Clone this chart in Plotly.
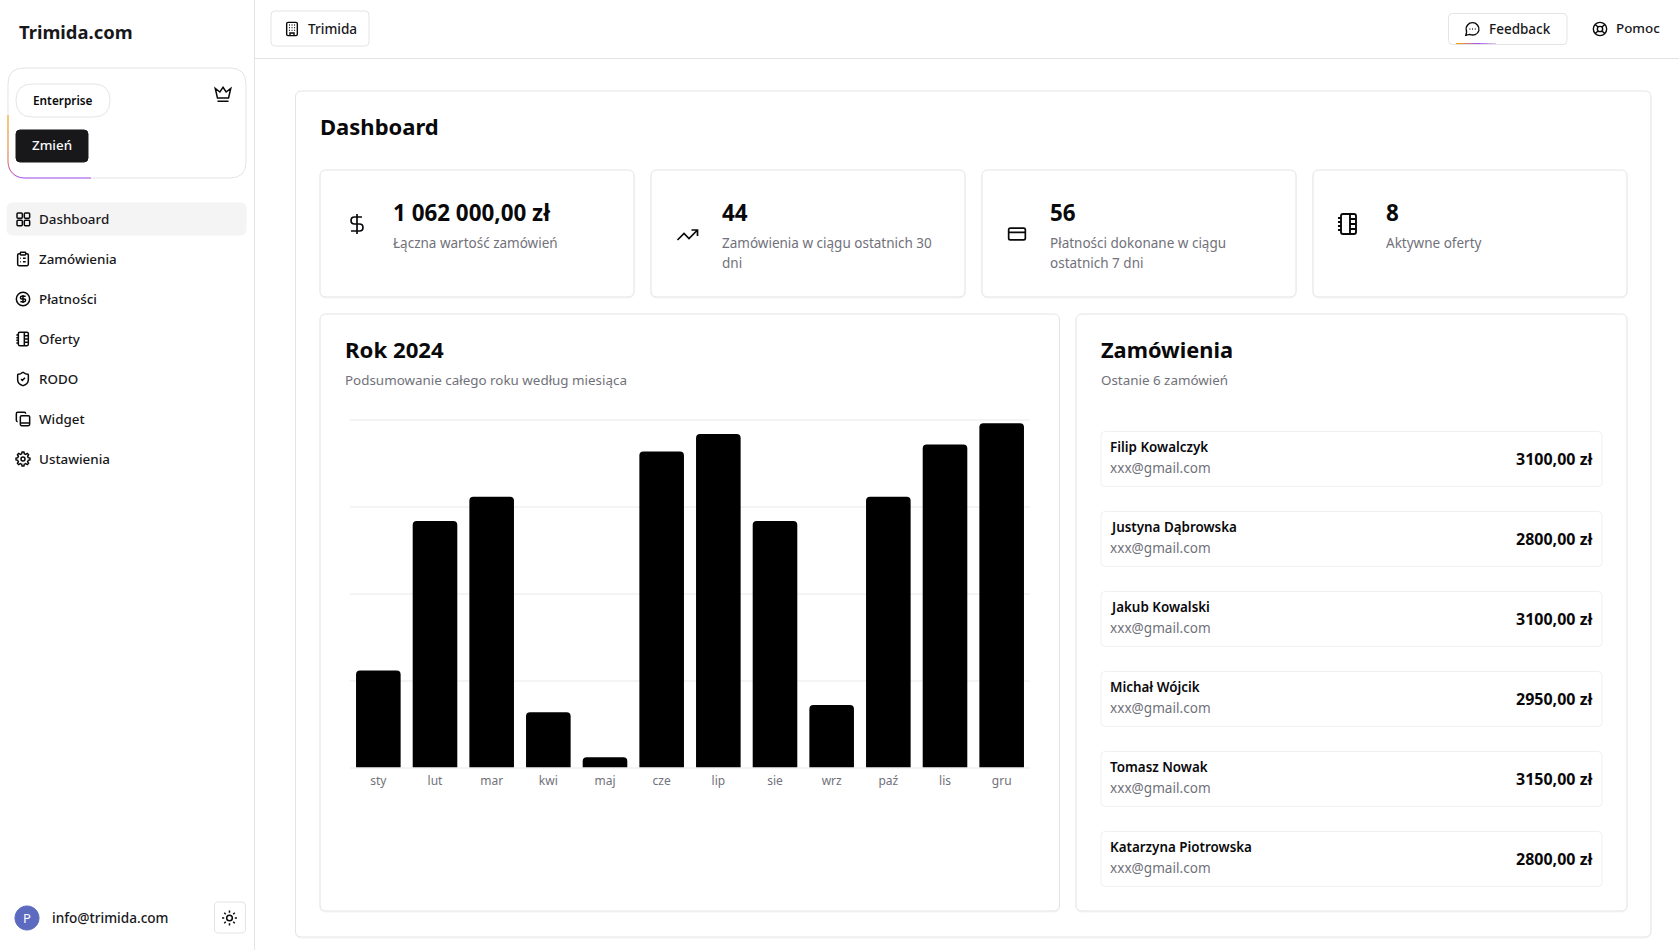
import math
import re
import plotly.graph_objects as go

W, H = 1679, 950
FONT = "Noto Sans"
INK = "#09090b"
MUTED = "#71717a"
LINE = "#e4e4e7"

# Dane wykresu
months = ["sty", "lut", "mar", "kwi", "maj", "cze", "lip", "sie", "wrz", "paź", "lis", "gru"]
totals = [40200, 102000, 112100, 22900, 4300, 130800, 138000, 102000, 25900, 112100, 133700, 142500]
grid_ticks = [0, 36000, 72000, 108000, 144000]

# Dane panelu
stat_values = ["1 062 000,00 zł", "44", "56", "8"]
stat_labels = ["Łączna wartość zamówień", "Zamówienia w ciągu ostatnich 30<br>dni",
               "Płatności dokonane w ciągu<br>ostatnich 7 dni", "Aktywne oferty"]
menu_items = ["Dashboard", "Zamówienia", "Płatności", "Oferty", "RODO", "Widget", "Ustawienia"]
order_names = ["Filip Kowalczyk", "Justyna Dąbrowska", "Jakub Kowalski",
               "Michał Wójcik", "Tomasz Nowak", "Katarzyna Piotrowska"]
order_amounts = ["3100,00 zł", "2800,00 zł", "3100,00 zł", "2950,00 zł", "3150,00 zł", "2800,00 zł"]

shapes, notes = [], []


def to_paper(path, ox=0, oy=0, s=1):
    # zamienia piksele na współrzędne paper
    nums = iter(range(10 ** 6))

    def conv(m):
        v = float(m.group())
        if next(nums) % 2 == 0:
            return f"{(ox + v * s) / W:.5f}"
        return f"{1 - (oy + v * s) / H:.5f}"
    return re.sub(r"-?\d+\.?\d*", conv, path)


def rrect(x, y, w, h, r):
    return (f"M{x + r} {y} L{x + w - r} {y} Q{x + w} {y} {x + w} {y + r} L{x + w} {y + h - r} "
            f"Q{x + w} {y + h} {x + w - r} {y + h} L{x + r} {y + h} Q{x} {y + h} {x} {y + h - r} "
            f"L{x} {y + r} Q{x} {y} {x + r} {y} Z ")


def circ(cx, cy, r):
    k = r * 0.5523
    return (f"M{cx + r} {cy} C{cx + r} {cy + k} {cx + k} {cy + r} {cx} {cy + r} "
            f"C{cx - k} {cy + r} {cx - r} {cy + k} {cx - r} {cy} "
            f"C{cx - r} {cy - k} {cx - k} {cy - r} {cx} {cy - r} "
            f"C{cx + k} {cy - r} {cx + r} {cy - k} {cx + r} {cy} Z ")


def box(x, y, w, h, r, fill="#ffffff", line=LINE, width=1, shadow=False):
    if shadow:
        stroke(rrect(x, y + 1, w, h, r), "#f4f4f5", 1)
    shapes.append(dict(type="path", path=to_paper(rrect(x, y, w, h, r)), xref="paper", yref="paper",
                       fillcolor=fill, line=dict(color=line, width=width), layer="below"))


def stroke(path, color, width=1):
    shapes.append(dict(type="path", path=to_paper(path), xref="paper", yref="paper",
                       fillcolor="rgba(0,0,0,0)", line=dict(color=color, width=width), layer="below"))


def icon(name, cx, cy, size=16, width=1.4, color=INK):
    path = ICONS[name]
    s = size / 24
    shapes.append(dict(type="path", path=to_paper(path, cx - size / 2, cy - size / 2, s),
                       xref="paper", yref="paper", fillcolor="rgba(0,0,0,0)",
                       line=dict(color=color, width=width), layer="below"))


def txt(x, y, s, size=13.4, color=INK, weight=400, anchor="left"):
    # el texto de Noto queda 1 px más bajo que en la referencia
    notes.append(dict(x=x / W, y=1 - (y - 1) / H, xref="paper", yref="paper", text=s, showarrow=False,
                      xanchor=anchor, yanchor="middle", align=anchor, borderpad=0, borderwidth=0,
                      font=dict(family=FONT, size=size, color=color, weight=weight)))


def blend(a, b, t):
    return "#" + "".join(f"{round(a[i] + (b[i] - a[i]) * t):02x}" for i in range(3))


def gradient(points, stops, width=1):
    # linia z gradientem rysowana krótkimi odcinkami
    n = len(points) - 1
    for i in range(n):
        t = i / n * (len(stops) - 1)
        j = min(int(t), len(stops) - 2)
        c = blend(stops[j], stops[j + 1], t - j)
        (x0, y0), (x1, y1) = points[i], points[i + 1]
        stroke(f"M{x0} {y0} L{x1} {y1}", c, width)


def gear():
    pts = []
    for i in range(48):
        a = i / 48 * 2 * math.pi
        r = 10.5 if (i + 1) % 6 < 3 else 8
        pts.append(f"{12 + r * math.cos(a):.2f} {12 + r * math.sin(a):.2f}")
    return "M" + " L".join(pts) + " Z " + circ(12, 12, 3)


def sun():
    out = circ(12, 12, 4)
    for i in range(8):
        a = i / 8 * 2 * math.pi
        out += (f"M{12 + 7.5 * math.cos(a):.2f} {12 + 7.5 * math.sin(a):.2f} "
                f"L{12 + 10.5 * math.cos(a):.2f} {12 + 10.5 * math.sin(a):.2f} ")
    return out


ICONS = {
    "building": rrect(4, 2, 16, 20, 2) + "M9 22 L9 18 L15 18 L15 22 M7.5 6 L8.8 6 M11.4 6 L12.7 6 M15.3 6 L16.6 6 "
                "M7.5 10 L8.8 10 M11.4 10 L12.7 10 M15.3 10 L16.6 10 M7.5 14 L8.8 14 M11.4 14 L12.7 14 M15.3 14 L16.6 14",
    "crown": "M12 3.5 L16 9.5 L21.8 5 L19 17 L5 17 L2.2 5 L8 9.5 Z M5 21 L19 21",
    "grid": rrect(3, 3, 8, 8, 1.5) + rrect(14, 3, 8, 8, 1.5) + rrect(14, 14, 8, 8, 1.5) + rrect(3, 14, 8, 8, 1.5),
    "clipboard": rrect(8, 2, 8, 4, 1) + "M16 4 L18 4 Q20 4 20 6 L20 20 Q20 22 18 22 L6 22 Q4 22 4 20 L4 6 Q4 4 6 4 L8 4 "
                 "M12 11 L16 11 M12 16 L16 16 M8 11 L9 11 M8 16 L9 16",
    "coin": circ(12, 12, 10) + "M16 8 L10 8 C7.5 8 7.5 12 10 12 L14 12 C16.5 12 16.5 16 14 16 L8 16 M12 6 L12 18",
    "dollar": "M12 2 L12 22 M17 5 L9.5 5 C4.9 5 4.9 12 9.5 12 L14.5 12 C19.1 12 19.1 19 14.5 19 L6 19",
    "notebook": "M2 6 L5 6 M2 10 L5 10 M2 14 L5 14 M2 18 L5 18 M14 2 L14 22 "
                "M14 7 L20 7 M14 12 L20 12 M14 17 L20 17 " + rrect(5, 2, 15, 20, 2),
    "shield": "M20 13 C20 18 16.5 20.5 12.3 22 Q12 22.1 11.7 22 C7.5 20.5 4 18 4 13 L4 6 Q4 5 5 5 C7 5 9.5 3.8 11.2 2.3 "
              "Q12 1.7 12.8 2.3 C14.5 3.8 17 5 19 5 Q20 5 20 6 Z M9 12 L11 14 L15 10",
    "copy": rrect(8, 7, 14, 15, 2) + "M8 18 L22 18 M4 16 C2.9 16 2 15.1 2 14 L2 4 C2 2.9 2.9 2 4 2 L14 2 C15.1 2 16 2.9 16 4",
    "gear": gear(),
    "trend": "M22 7 L13.5 15.5 L8.5 10.5 L2 17 M16 7 L22 7 L22 13",
    "card": rrect(2, 5, 20, 14, 2) + "M2 10 L22 10",
    "chat": "M7.9 20 C13 22.5 20 20.5 21.5 14.5 C23 7.5 17.5 2.5 12 2.5 C6 2.5 1.5 8 2.6 13 C3 15 3.3 16 3 17.5 "
            "L2 21.5 L6 20.5 Q7 20.2 7.9 20 Z M7.5 12 L8.7 12 M11.5 12 L12.7 12 M15.5 12 L16.7 12",
    "buoy": circ(12, 12, 10) + circ(12, 12, 4) + "M4.9 4.9 L9.2 9.2 M14.8 9.2 L19.1 4.9 M14.8 14.8 L19.1 19.1 M9.2 14.8 L4.9 19.1",
    "sun": sun(),
}

# Ramy układu
stroke("M254.5 0 L254.5 950", LINE)
stroke("M254.5 58.5 L1679 58.5", LINE)

# Pasek boczny
txt(19, 33, "Trimida.com", 18.4, "#18181b", 700)
box(8, 68, 238, 110, 16)
gradient([(8, 115), (8, 130), (8, 150), (8, 162)] +
         [(24 - 16 * math.cos(a / 6 * math.pi / 2), 162 + 16 * math.sin(a / 6 * math.pi / 2)) for a in range(1, 7)] +
         [(50, 178), (70, 178), (91, 178)],
         [(245, 158, 11), (217, 90, 160), (168, 85, 247), (168, 85, 247)], 1)
box(16, 84, 94, 33, 16.5)
txt(63, 101, "Enterprise", 11.8, INK, 600, "center")
box(16, 130, 72, 32, 4, fill="#18181b", line="#18181b")
txt(52, 146, "Zmień", 13.4, "#fafafa", 500, "center")
icon("crown", 223, 94, 19, 1.5)

box(7, 203, 239, 32, 6, fill="#f4f4f5", line="#f4f4f5")
menu_icons = ["grid", "clipboard", "coin", "notebook", "shield", "copy", "gear"]
for i, item in enumerate(menu_items):
    y = 219.6 + 40 * i
    icon(menu_icons[i], 23, y - 0.6, 16, 1.5)
    txt(39, y, item, 13.4, "#18181b", 500)

stroke(circ(27, 918, 12), "#5c6bc0", 1)
shapes[-1]["fillcolor"] = "#5c6bc0"
txt(27, 919, "P", 13, "#ffffff", 400, "center")
txt(52, 918, "info@trimida.com", 13.6, "#18181b", 500)
box(214.5, 902, 31, 31, 4)
icon("sun", 229.5, 918, 17, 1.5)

# Nagłówek
box(271, 11, 98, 35, 4)
icon("building", 292, 29, 16, 1.4)
txt(308, 29, "Trimida", 13.6, "#18181b", 500)
box(1448.5, 13.5, 118.5, 31, 4)
gradient([(1456 + i * 4, 43.5) for i in range(11)],
         [(245, 158, 11), (168, 85, 247), (228, 228, 231)], 1)
icon("chat", 1472.5, 29, 16, 1.4)
txt(1488.5, 30, "Feedback", 13.5, "#18181b", 500)
icon("buoy", 1600, 29, 16, 1.4)
txt(1616, 29, "Pomoc", 13.4, "#18181b", 500)

# Główna karta
box(295.5, 91, 1355.5, 846, 6, shadow=True)
txt(320, 127, "Dashboard", 22, INK, 700)

stat_x = [320, 651, 982, 1313]
stat_text_x = [393, 722, 1050, 1385.5]
stat_icons = [("dollar", 357, 224, 24, 1.7), ("trend", 687.5, 235, 24, 1.7),
              ("card", 1017, 234, 20, 1.7), ("notebook", 1348, 224, 24, 1.9)]
for i in range(4):
    box(stat_x[i], 170, 314, 127, 6, shadow=True)
    name, ix, iy, size, lw = stat_icons[i]
    icon(name, ix, iy, size, lw)
    txt(stat_text_x[i], 213.6, stat_values[i], 22.4, INK, 700)
    label = stat_labels[i].split("<br>")
    for k, part in enumerate(label):
        txt(stat_text_x[i], 244 + 20 * k, part, 13.5, MUTED)

# Karty dolne
box(320, 314, 739.5, 597, 6, shadow=True)
txt(345, 350, "Rok 2024", 22.2, INK, 700)
txt(345, 381.5, "Podsumowanie całego roku według miesiąca", 13.4, MUTED)

box(1076, 314, 551, 597, 6, shadow=True)
txt(1101, 350, "Zamówienia", 21.8, INK, 700)
txt(1101, 381.5, "Ostanie 6 zamówień", 13.4, MUTED)
for i in range(6):
    top = 431.5 + 80 * i
    box(1101, top, 501, 55, 4, line="#f0f0f2")
    txt(1110, top + 16.5, order_names[i], 13.4, INK, 600)
    txt(1110, top + 36.5, "xxx@gmail.com", 13.6, MUTED)
    txt(1593.5, top + 28.5, order_amounts[i], 16, INK, 700, "right")

fig = go.Figure(go.Bar(x=months, y=totals, marker=dict(color="#000000", cornerradius=4, line_width=0),
                       hovertemplate="%{x}: %{y}<extra></extra>"))
fig.update_layout(
    width=W, height=H, margin=dict(l=0, r=0, t=0, b=0), autosize=False,
    paper_bgcolor="#ffffff", plot_bgcolor="rgba(0,0,0,0)", showlegend=False, bargap=0.213,
    font=dict(family=FONT), shapes=shapes, annotations=notes,
)
fig.update_xaxes(domain=[350 / W, 1030 / W], showgrid=False, zeroline=False, showline=False, ticks="",
                 tickfont=dict(family=FONT, size=12, color=MUTED), ticklabelstandoff=4, fixedrange=True)
# plotly recorta la rejilla a menos de 1 px del borde: el rango sobra un poco por arriba
fig.update_yaxes(domain=[1 - 767.6 / H, 1 - 417.2 / H], range=[0, 145000], tickvals=grid_ticks,
                 showticklabels=False, showgrid=True, gridcolor="#f4f4f5", gridwidth=1.5,
                 zeroline=True, zerolinecolor="#f4f4f5", zerolinewidth=1.5, ticks="", fixedrange=True)

fig.write_html("out.html", config={"displayModeBar": False},
               post_script="document.body.style.margin='0';")
